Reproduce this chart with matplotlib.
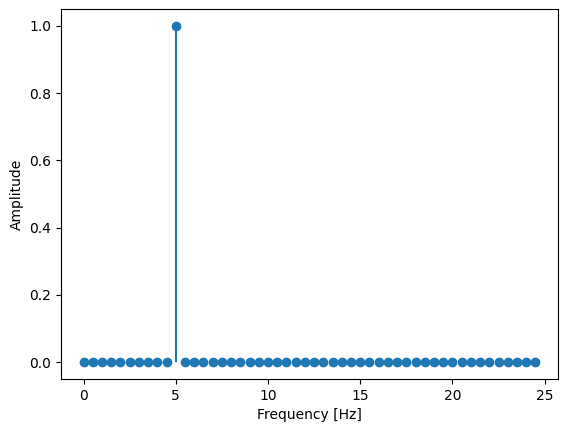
import matplotlib
matplotlib.use("Agg")
import matplotlib.pyplot as plt

# frequency bins (0 .. 24.5 Hz, 0.5 Hz apart)
freqs = [0.0, 0.5, 1.0, 1.5, 2.0, 2.5, 3.0, 3.5, 4.0, 4.5,
         5.0, 5.5, 6.0, 6.5, 7.0, 7.5, 8.0, 8.5, 9.0, 9.5,
         10.0, 10.5, 11.0, 11.5, 12.0, 12.5, 13.0, 13.5, 14.0, 14.5,
         15.0, 15.5, 16.0, 16.5, 17.0, 17.5, 18.0, 18.5, 19.0, 19.5,
         20.0, 20.5, 21.0, 21.5, 22.0, 22.5, 23.0, 23.5, 24.0, 24.5]
amplitude = [0, 0, 0, 0, 0, 0, 0, 0, 0, 0,
             1, 0, 0, 0, 0, 0, 0, 0, 0, 0,
             0, 0, 0, 0, 0, 0, 0, 0, 0, 0,
             0, 0, 0, 0, 0, 0, 0, 0, 0, 0,
             0, 0, 0, 0, 0, 0, 0, 0, 0, 0]

fig = plt.figure(figsize=(5.67, 4.32), dpi=100)
fig.subplots_adjust(left=61/567, right=558/567, top=1 - 9/432, bottom=1 - 379/432)
plt.stem(freqs, amplitude, basefmt=" ")
plt.xlabel('Frequency [Hz]')
plt.ylabel('Amplitude')
plt.savefig('out.png')
plt.close()
